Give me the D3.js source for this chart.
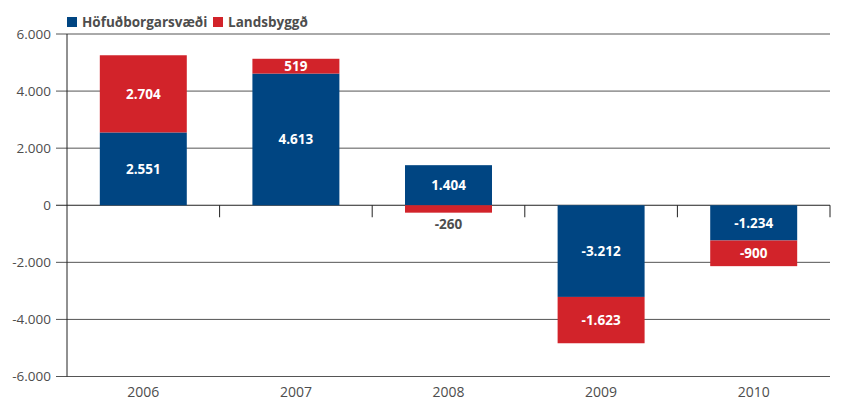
<!DOCTYPE html>
<html>
<head>
<meta charset="utf-8">
<script src="https://cdn.jsdelivr.net/npm/d3@7"></script>
<style>
  body { margin: 0; background: #fff; }
  text { font-family: "Open Sans", sans-serif; }
</style>
</head>
<body>
<svg width="853" height="401"></svg>
<script>
const years = ["2006", "2007", "2008", "2009", "2010"];
const capital = [2551, 4613, 1404, -3212, -1234];
const rural = [2704, 519, -260, -1623, -900];
const seriesNames = ["Höfuðborgarsvæði", "Landsbyggð"];
const colors = ["#004582", "#d2232a"];
const yTicks = [-6000, -4000, -2000, 0, 2000, 4000, 6000];

const svg = d3.select("svg");
const plotLeft = 67, plotRight = 830, plotTop = 34, plotBottom = 376.5;

const x = d3.scaleBand().domain(years).range([plotLeft, plotRight]).paddingInner(0.43).paddingOuter(0.215);
const band = d3.scaleBand().domain(years).range([plotLeft, plotRight]);
const y = d3.scaleLinear().domain([-6000, 6000]).range([plotBottom, plotTop]);

const fmt = v => {
  const s = Math.abs(v).toString();
  const t = s.length > 3 ? s.slice(0, s.length - 3) + "." + s.slice(-3) : s;
  return (v < 0 ? "-" : "") + t;
};

// grid lines
svg.append("g")
  .selectAll("line")
  .data(yTicks)
  .join("line")
  .attr("x1", plotLeft - 11)
  .attr("x2", plotRight)
  .attr("y1", d => y(d))
  .attr("y2", d => y(d))
  .attr("stroke", d => d === 0 ? "#222" : "#555")
  .attr("stroke-width", 1);

// y labels
svg.append("g")
  .selectAll("text")
  .data(yTicks)
  .join("text")
  .attr("x", plotLeft - 16)
  .attr("y", d => y(d))
  .attr("dy", "0.35em")
  .attr("text-anchor", "end")
  .attr("fill", "#4d4d4d")
  .style("font-size", "13.5px")
  .text(d => fmt(d));

// bars
const data = years.map((yr, i) => ({ yr, c: capital[i], r: rural[i] }));
const segs = [];
data.forEach(d => {
  let pos = 0, neg = 0;
  [d.c, d.r].forEach((v, k) => {
    let y0, y1;
    if (v >= 0) { y0 = pos; y1 = pos + v; pos = y1; }
    else { y0 = neg; y1 = neg + v; neg = y1; }
    segs.push({ yr: d.yr, v, k, y0, y1 });
  });
});

svg.append("g")
  .selectAll("rect")
  .data(segs)
  .join("rect")
  .attr("x", d => x(d.yr))
  .attr("width", x.bandwidth())
  .attr("y", d => y(Math.max(d.y0, d.y1)))
  .attr("height", d => Math.abs(y(d.y0) - y(d.y1)))
  .attr("fill", d => colors[d.k]);

// axis frame
svg.append("line")
  .attr("x1", plotLeft).attr("x2", plotLeft)
  .attr("y1", plotTop).attr("y2", plotBottom)
  .attr("stroke", "#222");

svg.append("g")
  .selectAll("line")
  .data(years.slice(1).map(yr => band(yr)).concat([plotRight]))
  .join("line")
  .attr("x1", d => d).attr("x2", d => d)
  .attr("y1", y(0)).attr("y2", y(0) + 12)
  .attr("stroke", "#222");

// bar labels
svg.append("g")
  .selectAll("text")
  .data(segs)
  .join("text")
  .attr("x", d => x(d.yr) + x.bandwidth() / 2)
  .attr("y", d => {
    const h = Math.abs(y(d.y0) - y(d.y1));
    if (h < 12) return y(Math.min(d.y0, d.y1)) + 12;
    return (y(d.y0) + y(d.y1)) / 2;
  })
  .attr("dy", "0.35em")
  .attr("text-anchor", "middle")
  .attr("fill", d => Math.abs(y(d.y0) - y(d.y1)) < 12 ? "#4d4d4d" : "#fff")
  .style("font-size", "13.5px")
  .style("font-weight", "bold")
  .text(d => fmt(d.v));

// x labels
svg.append("g")
  .selectAll("text")
  .data(years)
  .join("text")
  .attr("x", d => band(d) + band.bandwidth() / 2)
  .attr("y", 392.5)
  .attr("dy", "0.35em")
  .attr("text-anchor", "middle")
  .attr("fill", "#4d4d4d")
  .style("font-size", "14px")
  .text(d => d);

// legend
const legendX = [67, 213];
const legend = svg.append("g")
  .selectAll("g")
  .data(seriesNames)
  .join("g")
  .attr("transform", (d, i) => `translate(${legendX[i]},17)`);
legend.append("rect")
  .attr("width", 10).attr("height", 10)
  .attr("fill", (d, i) => colors[i]);
legend.append("text")
  .attr("x", 15).attr("y", 5)
  .attr("dy", "0.35em")
  .attr("fill", "#4d4d4d")
  .style("font-size", "13.5px")
  .style("font-weight", "bold")
  .text(d => d);
</script>
</body>
</html>
